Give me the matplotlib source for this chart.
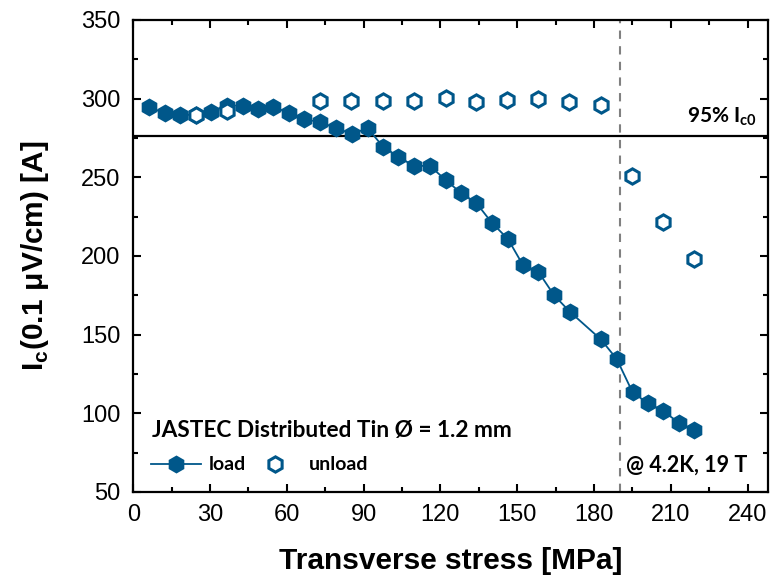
import matplotlib
matplotlib.use('Agg')
import matplotlib.pyplot as plt
from matplotlib.ticker import MultipleLocator

# transverse stress [MPa] and critical current [A]
load_x = [6.3, 12.3, 18.3, 24.5, 30.4, 36.5, 42.7, 48.8, 54.8, 61.0, 66.8, 73.0,
          79.3, 85.5, 91.6, 97.5, 103.5, 109.6, 115.9, 122.0, 127.9, 134.1, 140.0,
          146.4, 152.3, 158.3, 164.4, 170.5, 182.7, 188.9, 195.1, 200.9, 207.0,
          213.1, 219.2]
load_y = [294.5, 290.7, 289.8, 289.5, 291.7, 295.5, 295.5, 293.4, 294.5, 291.0,
          286.9, 285.0, 281.2, 277.5, 281.2, 269.5, 263.1, 257.2, 257.2, 248.3,
          240.2, 233.5, 221.2, 210.7, 194.0, 189.8, 175.0, 164.6, 146.9, 134.4,
          113.2, 106.6, 101.3, 94.1, 89.2]
unload_x = [24.5, 36.5, 73.0, 85.2, 97.5, 109.6, 122.0, 134.1, 146.1, 158.1,
            170.3, 182.7, 194.8, 207.0, 219.2]
unload_y = [289.4, 292.4, 298.7, 298.5, 298.7, 298.7, 300.2, 297.8, 299.1, 299.8,
            297.8, 295.7, 251.0, 221.8, 197.9]

ic_95 = 276      # 95% of Ic0
stress_limit = 190

blue = '#00578a'

plt.rcParams['font.family'] = 'Liberation Sans'
plt.rcParams['mathtext.fontset'] = 'custom'

fig = plt.figure(figsize=(7.7, 5.76), dpi=100)
ax = fig.add_axes([0.173, 0.146, 0.8245, 0.8195])

ax.plot(load_x, load_y, '-h', color=blue, lw=1.3, markersize=13,
        markeredgewidth=0, label='load', zorder=3)
ax.plot(unload_x, unload_y, 'h', color=blue, markerfacecolor='white',
        markersize=11, markeredgewidth=2.2, label='unload', zorder=4)

ax.axhline(ic_95, color='black', lw=1.6, zorder=2)
ax.axvline(stress_limit, color='#808080', lw=1.5, ls=(0, (4, 3.5)), zorder=1)

ax.set_xlim(0, 248)
ax.set_ylim(50, 350)
ax.xaxis.set_major_locator(MultipleLocator(30))
ax.xaxis.set_minor_locator(MultipleLocator(15))
ax.yaxis.set_major_locator(MultipleLocator(50))
ax.yaxis.set_minor_locator(MultipleLocator(25))
ax.tick_params(which='both', direction='in', top=True, right=True,
               labelsize=17, width=1.5, pad=9)
ax.tick_params(which='major', length=6)
ax.tick_params(which='minor', length=3.5)
for s in ax.spines.values():
    s.set_linewidth(1.6)

ax.set_xlabel('Transverse stress [MPa]', fontsize=21.5, fontweight='bold', labelpad=15)
ax.set_ylabel(r'I$_\mathregular{c}$(0.1 $\mathregular{\mu}$V/cm) [A]', fontsize=21.5,
              fontweight='bold', labelpad=22)

ann = dict(family='Lato', fontweight='bold', color='black')
ax.text(243.5, 285, r'95% I$_\mathregular{c0}$', ha='right', va='baseline', fontsize=15, **ann)
ax.text(7.3, 85, 'JASTEC Distributed Tin Ø = 1.2 mm', ha='left', va='baseline',
        fontsize=16.3, **ann)
ax.text(192.5, 63, '@ 4.2K, 19 T', ha='left', va='baseline', fontsize=15.5, **ann)

leg = ax.legend(loc='center left', bbox_to_anchor=(0.0, 0.057), ncol=2, frameon=False,
                handlelength=2.6, handletextpad=0.4, columnspacing=0.2,
                prop=dict(family='Lato', weight='bold', size=14))

fig.savefig('out.png', dpi=100)
